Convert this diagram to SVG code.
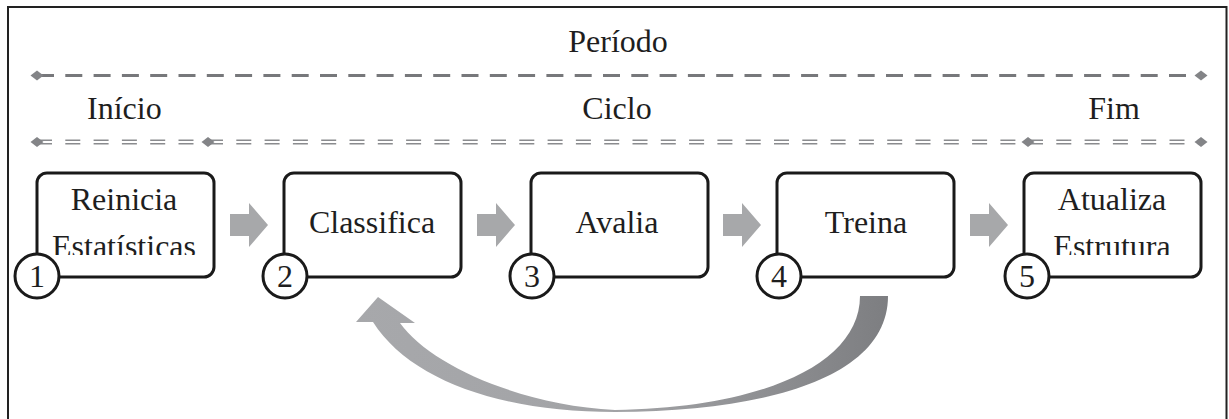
<svg xmlns="http://www.w3.org/2000/svg" width="1229" height="419" viewBox="0 0 1229 419">
  <style>
    .lbl { font-family: "Liberation Serif", "Times New Roman", serif; font-size: 32px; fill: #1e1e1e; }
    .mid { text-anchor: middle; }
    .box { fill: #fff; stroke: #1a1a1a; stroke-width: 3; }
    .num { fill: #fff; stroke: #1a1a1a; stroke-width: 3; }
    .step { fill: #a7a8aa; }
    .dash1 { stroke: #77787b; stroke-width: 3; stroke-dasharray: 17 11.3; fill: none; }
    .dash2 { stroke: #8a8b8e; stroke-width: 1.6; stroke-dasharray: 15 13.3; fill: none; }
    .dia { fill: #838487; }
  </style>
  <defs>
    <path id="diamond" d="M -6.5 0 L 0 -5 L 6.5 0 L 0 5 Z"/>
    <path id="blockArrow" d="M 0 -11 L 19 -11 L 19 -22 L 38 0 L 19 22 L 19 11 L 0 11 Z"/>
    <linearGradient id="loopShade" x1="356" y1="0" x2="888" y2="0" gradientUnits="userSpaceOnUse">
      <stop offset="0" stop-color="#a7a8ab"/>
      <stop offset="0.5" stop-color="#a2a3a6"/>
      <stop offset="1" stop-color="#7d7e81"/>
    </linearGradient>
    <clipPath id="clipTwoLine">
      <rect x="0" y="0" width="1229" height="255"/>
    </clipPath>
  </defs>

  <!-- outer frame (open at the bottom edge) -->
  <path d="M 8 430 L 8 7 L 1226.5 7 L 1226.5 430" fill="none" stroke="#222" stroke-width="2"/>

  <!-- timeline labels -->
  <g id="timeline">
    <text class="lbl mid" x="618" y="52">Período</text>
    <line class="dash1" x1="37" y1="75.5" x2="1201" y2="75.5"/>
    <use href="#diamond" class="dia" x="37" y="75.5"/>
    <use href="#diamond" class="dia" x="1201" y="75.5"/>

    <text class="lbl" x="87" y="119">Início</text>
    <text class="lbl mid" x="617" y="119">Ciclo</text>
    <text class="lbl mid" x="1114" y="119">Fim</text>

    <g>
      <line class="dash2" x1="37" y1="140.3" x2="208" y2="140.3"/>
      <line class="dash2" x1="37" y1="143.7" x2="208" y2="143.7"/>
      <line class="dash2" x1="208" y1="140.3" x2="1028" y2="140.3"/>
      <line class="dash2" x1="208" y1="143.7" x2="1028" y2="143.7"/>
      <line class="dash2" x1="1028" y1="140.3" x2="1201" y2="140.3"/>
      <line class="dash2" x1="1028" y1="143.7" x2="1201" y2="143.7"/>
    </g>
    <use href="#diamond" class="dia" x="37" y="142"/>
    <use href="#diamond" class="dia" x="208" y="142"/>
    <use href="#diamond" class="dia" x="1028" y="142"/>
    <use href="#diamond" class="dia" x="1201" y="142"/>
  </g>

  <!-- connectors -->
  <g id="connectors">
    <use href="#blockArrow" class="step" x="230" y="225"/>
    <use href="#blockArrow" class="step" x="477" y="225"/>
    <use href="#blockArrow" class="step" x="723" y="225"/>
    <use href="#blockArrow" class="step" x="970" y="225"/>
    <!-- loop back from Treina to Classifica -->
    <path fill="url(#loopShade)" d="M 888 296 C 888 375, 775 411, 615 412 C 500 412, 410 380, 373 322 L 356 322 L 378 297 L 415 323 L 400 323 C 430 365, 520 405, 615 410 C 760 408, 860 365, 860 296 Z"/>
  </g>

  <g id="n1">
    <rect class="box" x="37" y="173" width="177" height="104" rx="10"/>
    <text class="lbl mid" x="124" y="210">Reinicia</text>
    <text class="lbl mid" x="124" y="257" clip-path="url(#clipTwoLine)">Estatísticas</text>
    <circle class="num" cx="37" cy="276" r="22"/>
    <text class="lbl mid" x="37" y="287">1</text>
  </g>

  <g id="n2">
    <rect class="box" x="284" y="173" width="177" height="104" rx="10"/>
    <text class="lbl mid" x="372" y="233">Classifica</text>
    <circle class="num" cx="285" cy="276" r="22"/>
    <text class="lbl mid" x="285" y="287">2</text>
  </g>

  <g id="n3">
    <rect class="box" x="531" y="173" width="177" height="104" rx="10"/>
    <text class="lbl mid" x="617" y="233">Avalia</text>
    <circle class="num" cx="532" cy="276" r="22"/>
    <text class="lbl mid" x="532" y="287">3</text>
  </g>

  <g id="n4">
    <rect class="box" x="777" y="173" width="177" height="104" rx="10"/>
    <text class="lbl mid" x="866" y="233">Treina</text>
    <circle class="num" cx="779" cy="276" r="22"/>
    <text class="lbl mid" x="779" y="287">4</text>
  </g>

  <g id="n5">
    <rect class="box" x="1024" y="173" width="177" height="104" rx="10"/>
    <text class="lbl mid" x="1112" y="210">Atualiza</text>
    <text class="lbl mid" x="1112" y="257" clip-path="url(#clipTwoLine)">Estrutura</text>
    <circle class="num" cx="1027" cy="276" r="22"/>
    <text class="lbl mid" x="1027" y="287">5</text>
  </g>
</svg>
